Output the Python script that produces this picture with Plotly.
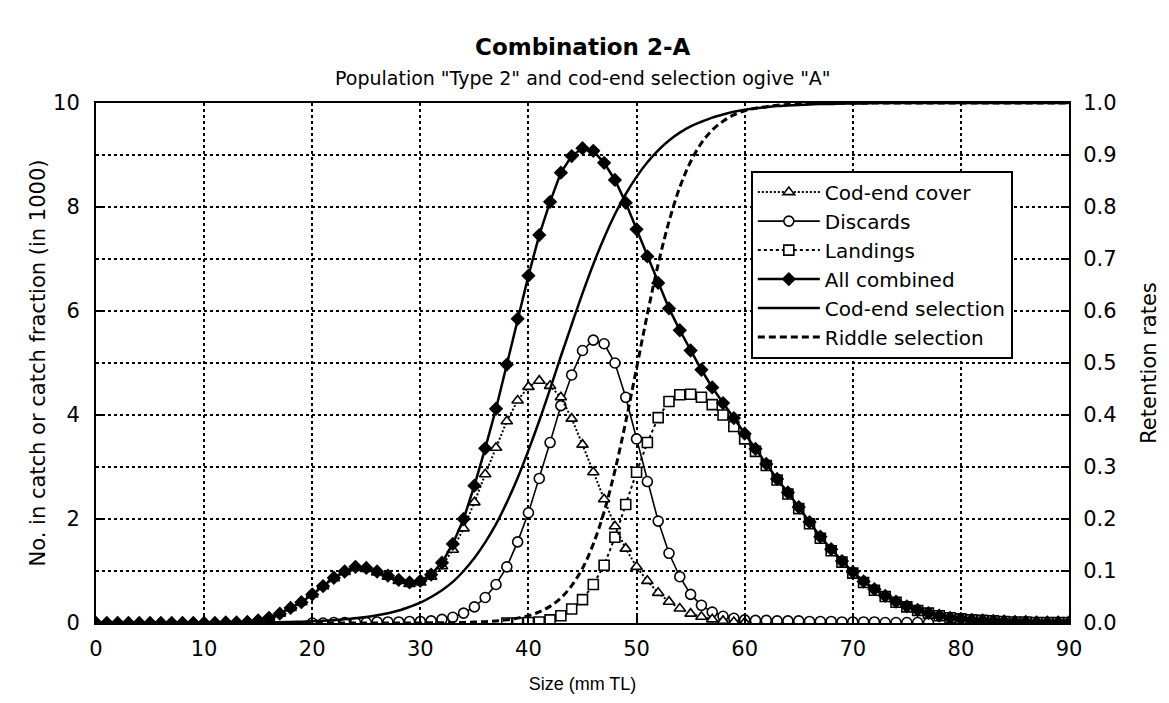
import plotly.graph_objects as go

# ---------------- data ----------------
size_all = list(range(0, 91))
all_combined = [0.0, 0.0, 0.0, 0.0, 0.0, 0.0, 0.0, 0.0, 0.0, 0.0,
                0.0, 0.0, 0.01, 0.01, 0.02, 0.05, 0.10, 0.18, 0.29, 0.40,
                0.55, 0.71, 0.87, 0.99, 1.08, 1.06, 0.99, 0.91, 0.83, 0.78,
                0.81, 0.93, 1.16, 1.52, 2.00, 2.64, 3.36, 4.12, 4.97, 5.85,
                6.68, 7.46, 8.10, 8.66, 8.98, 9.13, 9.08, 8.85, 8.52, 8.08,
                7.57, 7.05, 6.54, 6.05, 5.63, 5.24, 4.87, 4.53, 4.23, 3.94,
                3.64, 3.35, 3.06, 2.77, 2.51, 2.23, 1.94, 1.66, 1.42, 1.19,
                0.98, 0.80, 0.65, 0.52, 0.41, 0.32, 0.25, 0.19, 0.14, 0.10,
                0.08, 0.06, 0.05, 0.04, 0.03, 0.02, 0.02, 0.01, 0.01, 0.01,
                0.01]

size_cover = list(range(10, 61))
codend_cover = [0.0, 0.0, 0.01, 0.01, 0.02, 0.05, 0.10, 0.18, 0.29, 0.40,
                0.55, 0.71, 0.86, 0.98, 1.06, 1.04, 0.97, 0.89, 0.81, 0.75,
                0.78, 0.89, 1.09, 1.41, 1.82, 2.32, 2.86, 3.37, 3.88, 4.28,
                4.54, 4.66, 4.56, 4.34, 3.93, 3.43, 2.90, 2.38, 1.86, 1.43,
                1.08, 0.81, 0.58, 0.41, 0.28, 0.18, 0.12, 0.07, 0.04, 0.02,
                0.01]

size_disc = list(range(20, 78))
discards = [0.0, 0.0, 0.01, 0.01, 0.01, 0.01, 0.02, 0.02, 0.02, 0.03,
            0.03, 0.04, 0.07, 0.11, 0.19, 0.31, 0.49, 0.74, 1.08, 1.56,
            2.12, 2.78, 3.47, 4.18, 4.77, 5.24, 5.44, 5.37, 5.00, 4.34,
            3.54, 2.72, 1.96, 1.34, 0.89, 0.55, 0.34, 0.21, 0.13, 0.09,
            0.06, 0.05, 0.05, 0.04, 0.04, 0.04, 0.03, 0.03, 0.03, 0.02,
            0.02, 0.02, 0.02, 0.01, 0.01, 0.01, 0.01, 0.0]

size_land = list(range(38, 91))
landings = [0.0, 0.0, 0.01, 0.02, 0.06, 0.14, 0.27, 0.45, 0.74, 1.11,
            1.65, 2.28, 2.90, 3.47, 3.95, 4.26, 4.39, 4.40, 4.34, 4.20,
            4.00, 3.78, 3.54, 3.30, 3.03, 2.75, 2.48, 2.20, 1.91, 1.63,
            1.39, 1.17, 0.96, 0.78, 0.63, 0.51, 0.40, 0.31, 0.24, 0.19,
            0.14, 0.10, 0.08, 0.06, 0.05, 0.04, 0.03, 0.02, 0.02, 0.01,
            0.01, 0.01, 0.01]

size_sel = list(range(0, 91))
codend_selection = [0.0, 0.0, 0.0, 0.0, 0.0, 0.0, 0.0, 0.0, 0.0, 0.0,
                    0.0003, 0.0004, 0.0005, 0.0006, 0.0008, 0.001, 0.0012, 0.0016, 0.002, 0.0026,
                    0.0033, 0.0043, 0.0055, 0.007, 0.009, 0.0115, 0.0148, 0.0189, 0.024, 0.031,
                    0.039, 0.050, 0.063, 0.079, 0.100, 0.125, 0.155, 0.190, 0.232, 0.279,
                    0.332, 0.389, 0.450, 0.513, 0.574, 0.634, 0.690, 0.741, 0.786, 0.825,
                    0.858, 0.886, 0.909, 0.928, 0.943, 0.955, 0.964, 0.972, 0.978, 0.983,
                    0.987, 0.990, 0.992, 0.994, 0.995, 0.996, 0.997, 0.998, 0.998, 0.999,
                    0.999, 0.999, 1.0, 1.0, 1.0, 1.0, 1.0, 1.0, 1.0, 1.0,
                    1.0, 1.0, 1.0, 1.0, 1.0, 1.0, 1.0, 1.0, 1.0, 1.0,
                    1.0]
riddle_selection = [0.0] * 30 + [
                    0.0002, 0.0003, 0.0005, 0.0007, 0.0011, 0.0018, 0.0026, 0.004, 0.006, 0.0094,
                    0.014, 0.0215, 0.032, 0.048, 0.072, 0.105, 0.152, 0.214, 0.293, 0.387,
                    0.490, 0.594, 0.690, 0.772, 0.838, 0.887, 0.923, 0.948, 0.965, 0.977,
                    0.985, 0.990, 0.993, 0.9955, 0.997, 0.998, 0.9988, 0.9992, 0.9995, 0.9997,
                    1.0, 1.0, 1.0, 1.0, 1.0, 1.0, 1.0, 1.0, 1.0, 1.0,
                    1.0, 1.0, 1.0, 1.0, 1.0, 1.0, 1.0, 1.0, 1.0, 1.0,
                    1.0]

x_ticks = [0, 10, 20, 30, 40, 50, 60, 70, 80, 90]
y_ticks = [0, 2, 4, 6, 8, 10]
y2_ticks = [0.0, 0.1, 0.2, 0.3, 0.4, 0.5, 0.6, 0.7, 0.8, 0.9, 1.0]

FONT = "Liberation Sans, Arial, sans-serif"
WIDE = "DejaVu Sans, Liberation Sans, sans-serif"

fig = go.Figure()

# selection ogives (right axis)
fig.add_trace(go.Scatter(x=size_sel, y=codend_selection, name="Cod-end selection",
                         mode="lines", yaxis="y2", legendrank=5,
                         line=dict(color="black", width=2.5, shape="spline")))
fig.add_trace(go.Scatter(x=size_sel, y=riddle_selection, name="Riddle selection",
                         mode="lines", yaxis="y2", legendrank=6,
                         line=dict(color="black", width=3, dash="7px,4px", shape="spline")))

# catch fractions (left axis)
fig.add_trace(go.Scatter(x=size_land, y=landings, name="Landings", mode="lines+markers",
                         legendrank=3,
                         line=dict(color="black", width=2, dash="3px,3px"),
                         marker=dict(symbol="square", size=10, color="white",
                                     line=dict(color="black", width=1.6))))
fig.add_trace(go.Scatter(x=size_disc, y=discards, name="Discards", mode="lines+markers",
                         legendrank=2,
                         line=dict(color="black", width=1.6),
                         marker=dict(symbol="circle", size=10, color="white",
                                     line=dict(color="black", width=1.6))))
fig.add_trace(go.Scatter(x=size_cover, y=codend_cover, name="Cod-end cover", mode="lines+markers",
                         legendrank=1,
                         line=dict(color="black", width=2, dash="2px,2px"),
                         marker=dict(symbol="triangle-up", size=10, color="white",
                                     line=dict(color="black", width=1.6))))
fig.add_trace(go.Scatter(x=size_all, y=all_combined, name="All combined", mode="lines+markers",
                         legendrank=4,
                         line=dict(color="black", width=2.5),
                         marker=dict(symbol="diamond", size=11, color="black",
                                     line=dict(color="black", width=0))))

fig.update_layout(
    width=1169, height=703,
    margin=dict(l=96, r=100, t=103, b=80),
    paper_bgcolor="white", plot_bgcolor="white",
    font=dict(family=FONT, size=19, color="black"),
    showlegend=True,
    legend=dict(x=0.673, y=0.87, xanchor="left", yanchor="top",
                bgcolor="white", bordercolor="black", borderwidth=2,
                font=dict(size=20, family=WIDE), traceorder="normal",
                itemwidth=62),
    xaxis=dict(range=[0, 90], tickvals=x_ticks, ticks="inside", ticklen=8,
               tickwidth=1.5, tickcolor="black", showline=True, linecolor="black",
               linewidth=2, mirror=True, showgrid=True, gridcolor="black",
               griddash="dot", gridwidth=1.6, zeroline=False,
               tickfont=dict(size=21, family=WIDE), ticklabelstandoff=6,
               title=dict(text="Size (mm TL)", font=dict(size=18, family=FONT), standoff=17)),
    yaxis=dict(range=[0, 10], tickvals=y_ticks, ticks="inside", ticklen=8,
               tickwidth=1.5, tickcolor="black", showline=True, linecolor="black",
               linewidth=2, showgrid=False, zeroline=False,
               tickfont=dict(size=21, family=WIDE), ticklabelstandoff=10,
               title=dict(text="No. in catch or catch fraction (in 1000)",
                          font=dict(size=21, family=WIDE), standoff=2)),
    yaxis2=dict(range=[0, 1], tickvals=y2_ticks, tickformat=".1f", overlaying="y",
                side="right", ticks="inside", ticklen=8, tickwidth=1.5,
                tickcolor="black", showline=True, linecolor="black", linewidth=2,
                showgrid=True, gridcolor="black", griddash="dot", gridwidth=1.6,
                zeroline=False, tickfont=dict(size=21, family=WIDE), ticklabelstandoff=8,
                title=dict(text="Retention rates", font=dict(size=21, family=WIDE),
                           standoff=26)),
    annotations=[
        dict(text="<b>Combination 2-A</b>", xref="paper", yref="paper",
             x=0.5, y=1 + 56 / 520, xanchor="center", yanchor="middle",
             showarrow=False, font=dict(size=23, family=WIDE)),
        dict(text='Population "Type 2" and cod-end selection ogive "A"',
             xref="paper", yref="paper", x=0.5, y=1 + 25 / 520,
             xanchor="center", yanchor="middle", showarrow=False,
             font=dict(size=19, family=WIDE)),
    ],
)

fig.write_html("out.html")
